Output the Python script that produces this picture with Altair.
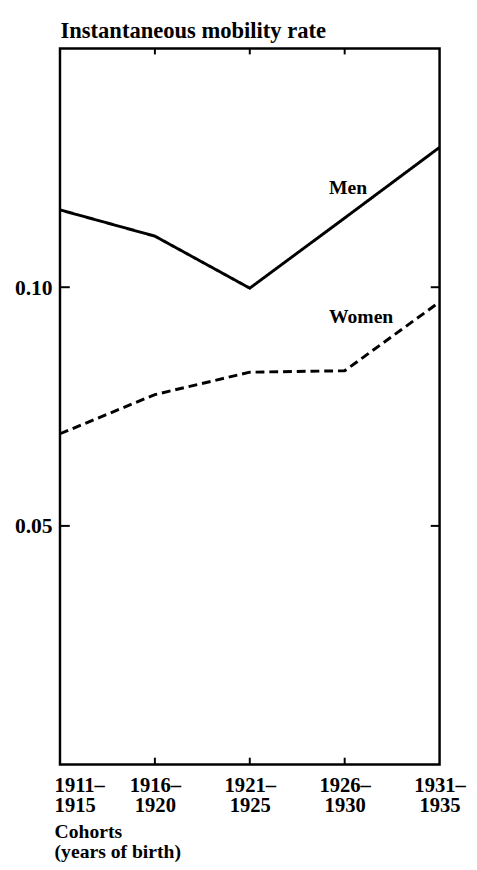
import altair as alt
import pandas as pd

cohorts = ["1911–|1915", "1916–|1920", "1921–|1925", "1926–|1930", "1931–|1935"]
men = [0.1162, 0.1107, 0.0998, 0.1145, 0.1293]
women = [0.0693, 0.0775, 0.0822, 0.0825, 0.0969]
y_ticks = [0.05, 0.10]
inner_cohorts = cohorts[1:4]
series_names = ["Men", "Women"]
label_cohort = ["1926–|1930", "1926–|1930"]
label_values = [0.1195, 0.0924]

FONT = "Liberation Serif, Times New Roman, serif"
W, H = 387, 730

rows = []
for c, v in zip(cohorts, men):
    rows.append({"series": "Men", "cohort": c, "value": v})
for c, v in zip(cohorts, women):
    rows.append({"series": "Women", "cohort": c, "value": v})
df = pd.DataFrame(rows)

xscale = alt.Scale(type="point", padding=0, domain=cohorts)
yscale = alt.Scale(domain=[0, 0.15], nice=False)

xaxis = alt.Axis(
    title=["Cohorts", "(years of birth)"],
    labelExpr="split(datum.label, '|')",
    labelAngle=0,
    labelBaseline="top",
    labelLineHeight=21,
    labelPadding=10,
    labelAlign=alt.condition("datum.value == '1911–|1915'", alt.value("left"), alt.value("center")),
    labelOffset=alt.condition("datum.value == '1911–|1915'", alt.value(-6), alt.value(0)),
    labelFontSize=21, labelFontWeight="bold", labelColor="black", labelFont=FONT,
    ticks=False, domain=False, grid=False,
    titleX=-6, titleY=74, titleAlign="left", titleBaseline="alphabetic",
    titleAngle=0, titleLineHeight=21, titleFontSize=20, titleFontWeight="bold",
    titleColor="black", titleFont=FONT,
)
yaxis = alt.Axis(
    title="Instantaneous mobility rate",
    values=y_ticks, format=".2f",
    labelFontSize=22, labelFontWeight="bold", labelColor="black", labelFont=FONT,
    labelPadding=8,
    ticks=False, domain=False, grid=False,
    titleAngle=0, titleX=0, titleY=-11, titleAlign="left", titleBaseline="alphabetic",
    titleFontSize=23, titleFontWeight="bold", titleColor="black", titleFont=FONT,
)

lines = alt.Chart(df).mark_line(color="black", strokeWidth=3).encode(
    x=alt.X("cohort:N", scale=xscale, sort=cohorts, axis=xaxis),
    y=alt.Y("value:Q", scale=yscale, axis=yaxis),
    strokeDash=alt.StrokeDash("series:N",
                              scale=alt.Scale(domain=series_names, range=[[1, 0], [9, 5]]),
                              legend=None),
    detail="series:N",
)

tick_df = pd.DataFrame({"value": y_ticks})
left_ticks = alt.Chart(tick_df).mark_rule(color="black", strokeWidth=2).encode(
    y=alt.Y("value:Q", scale=yscale), x=alt.value(0), x2=alt.value(10))
right_ticks = alt.Chart(tick_df).mark_rule(color="black", strokeWidth=2).encode(
    y=alt.Y("value:Q", scale=yscale), x=alt.value(W), x2=alt.value(W - 9))

xt_df = pd.DataFrame({"cohort": inner_cohorts})
top_ticks = alt.Chart(xt_df).mark_rule(color="black", strokeWidth=2).encode(
    x=alt.X("cohort:N", scale=xscale, sort=cohorts), y=alt.value(0), y2=alt.value(6))
bottom_ticks = alt.Chart(xt_df).mark_rule(color="black", strokeWidth=2).encode(
    x=alt.X("cohort:N", scale=xscale, sort=cohorts), y=alt.value(H), y2=alt.value(H - 7))

lab_df = pd.DataFrame({"name": series_names, "cohort": label_cohort, "value": label_values})
labels = alt.Chart(lab_df).mark_text(
    align="left", baseline="alphabetic", dx=-16, fontSize=20, fontWeight="bold",
    font=FONT, color="black").encode(
    x=alt.X("cohort:N", scale=xscale, sort=cohorts),
    y=alt.Y("value:Q", scale=yscale),
    text="name:N")

chart = alt.layer(lines, left_ticks, right_ticks, top_ticks, bottom_ticks, labels).properties(
    width=W, height=H,
    autosize=alt.AutoSizeParams(type="none"),
    padding={"left": 53, "top": 33, "right": 30, "bottom": 91},
    background="white",
).configure(font=FONT).configure_view(stroke="black", strokeWidth=2.5)

chart.save("out.html", embed_options={"renderer": "svg", "actions": False})
